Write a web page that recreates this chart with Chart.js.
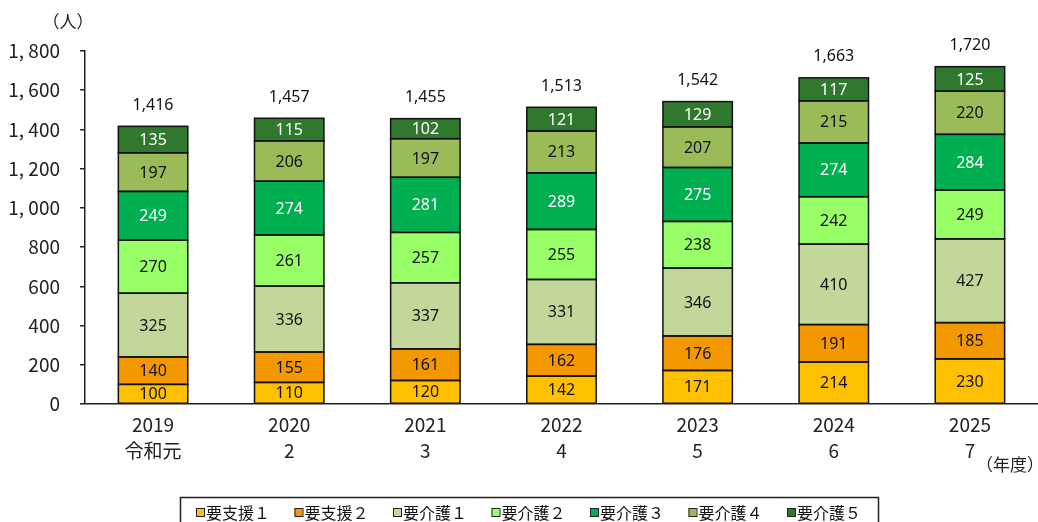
<!DOCTYPE html>
<html>
<head>
<meta charset="utf-8">
<script src="https://cdn.jsdelivr.net/npm/chart.js@4"></script>
<style>
  html, body { margin: 0; padding: 0; background: #fff; }
  #wrap { width: 1038px; height: 522px; position: relative; }
</style>
</head>
<body>
<div id="wrap"><canvas id="myChart"></canvas></div>
<script>
// chart data
var years = ['2019', '2020', '2021', '2022', '2023', '2024', '2025'];
var eras = ['令和元', '2', '3', '4', '5', '6', '7'];
var shien1 = [100, 110, 120, 142, 171, 214, 230];
var shien2 = [140, 155, 161, 162, 176, 191, 185];
var kaigo1 = [325, 336, 337, 331, 346, 410, 427];
var kaigo2 = [270, 261, 257, 255, 238, 242, 249];
var kaigo3 = [249, 274, 281, 289, 275, 274, 284];
var kaigo4 = [197, 206, 197, 213, 207, 215, 220];
var kaigo5 = [135, 115, 102, 121, 129, 117, 125];
var totals = [1416, 1457, 1455, 1513, 1542, 1663, 1720];

var narrow = "'Liberation Sans Narrow', 'Noto Sans CJK JP', sans-serif";
var labelFont = "'Noto Sans', 'Noto Sans CJK JP', sans-serif";

function ds(label, data, color, textColor) {
    return {
        label: label,
        data: data,
        backgroundColor: color,
        borderWidth: 0,
        textColor: textColor
    };
}

// outlines, numbers inside the segments, totals above, and the boxed legend
var labelPlugin = {
    id: 'labelPlugin',
    afterDatasetsDraw: function(chart) {
        var ctx = chart.ctx;
        ctx.save();
        ctx.strokeStyle = '#111';
        ctx.lineWidth = 1.5;
        chart.data.datasets.forEach(function(d, i) {
            chart.getDatasetMeta(i).data.forEach(function(bar) {
                var w = bar.width;
                ctx.strokeRect(bar.x - w / 2, bar.y, w, bar.base - bar.y);
            });
        });

        ctx.textAlign = 'center';
        ctx.textBaseline = 'middle';
        ctx.font = '16px ' + labelFont;
        chart.data.datasets.forEach(function(d, i) {
            var meta = chart.getDatasetMeta(i);
            meta.data.forEach(function(bar, j) {
                ctx.fillStyle = d.textColor;
                ctx.fillText(d.data[j], bar.x, (bar.y + bar.base) / 2 + 1);
            });
        });
        var top = chart.getDatasetMeta(chart.data.datasets.length - 1);
        ctx.fillStyle = '#111';
        top.data.forEach(function(bar, j) {
            ctx.fillText(totals[j].toLocaleString('en-US'), bar.x, bar.y - 21);
        });

        // units
        ctx.font = '17px ' + narrow;
        ctx.fillStyle = '#222';
        ctx.fillText('（人）', 68, 22);
        ctx.fillText('（年度）', 1010, 465);

        // legend
        ctx.strokeStyle = '#222';
        ctx.lineWidth = 1.5;
        ctx.strokeRect(180.5, 497.5, 698, 30);
        ctx.font = '16px ' + narrow;
        ctx.textAlign = 'left';
        var x = 196;
        chart.data.datasets.forEach(function(d) {
            ctx.fillStyle = d.backgroundColor;
            ctx.fillRect(x, 508, 8, 8);
            ctx.lineWidth = 1;
            ctx.strokeStyle = '#222';
            ctx.strokeRect(x + 0.5, 508.5, 8, 8);
            ctx.fillStyle = '#111';
            ctx.fillText(d.label, x + 10, 513);
            x += 98.5;
        });
        ctx.restore();
    }
};

var ctx = document.getElementById('myChart');
var myChart = new Chart(ctx, {
    type: 'bar',
    data: {
        labels: years.map(function(y, i) { return [y, eras[i]]; }),
        datasets: [
            ds('要支援１', shien1, '#FFC000', '#111'),
            ds('要支援２', shien2, '#F39800', '#111'),
            ds('要介護１', kaigo1, '#C4D79B', '#111'),
            ds('要介護２', kaigo2, '#99FF66', '#111'),
            ds('要介護３', kaigo3, '#00B050', '#fff'),
            ds('要介護４', kaigo4, '#9BBB59', '#111'),
            ds('要介護５', kaigo5, '#31782F', '#fff')
        ]
    },
    plugins: [labelPlugin],
    options: {
        responsive: true,
        maintainAspectRatio: false,
        animation: false,
        layout: { padding: { top: 51, right: 0, bottom: 0, left: 0 } },
        datasets: { bar: { barPercentage: 0.51, categoryPercentage: 1 } },
        plugins: {
            legend: { display: false },
            tooltip: { enabled: false }
        },
        scales: {
            x: {
                stacked: true,
                grid: { display: false },
                border: { display: true, color: '#222', width: 1.5 },
                ticks: {
                    color: '#222',
                    padding: 0,
                    maxRotation: 0,
                    font: { family: narrow, size: 19, lineHeight: 1.35 }
                },
                afterFit: function(scale) { scale.height = 118; }
            },
            y: {
                stacked: true,
                min: 0,
                max: 1800,
                grid: {
                    drawOnChartArea: false,
                    drawTicks: true,
                    tickLength: 5,
                    color: '#222',
                    lineWidth: 1.5
                },
                border: { display: true, color: '#222', width: 1.5 },
                ticks: {
                    stepSize: 200,
                    color: '#222',
                    padding: 20,
                    font: { family: narrow, size: 19 },
                    callback: function(v) {
                        var s = String(v);
                        return s.length > 3 ? s.slice(0, s.length - 3) + ', ' + s.slice(-3) : s;
                    }
                },
                afterFit: function(scale) { scale.width = 85; }
            }
        }
    }
});
</script>
</body>
</html>
